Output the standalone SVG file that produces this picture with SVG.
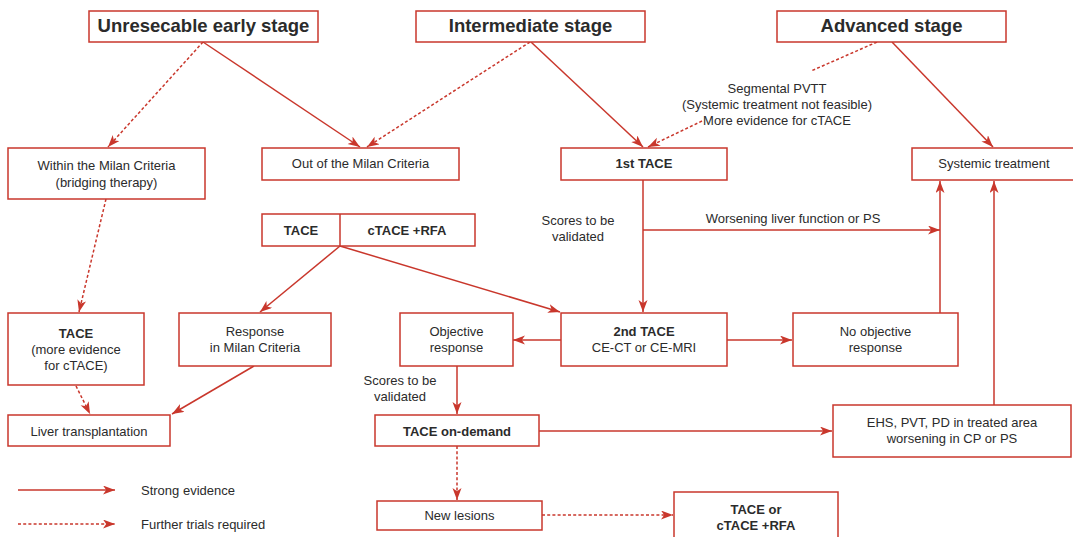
<svg xmlns="http://www.w3.org/2000/svg" width="1073" height="537" viewBox="0 0 1073 537">
  <style>
    .box { fill: #ffffff; stroke: #c9372c; stroke-width: 1.5; }
    .ln { fill: none; stroke: #c9372c; stroke-width: 1.5; }
    .dot { stroke-dasharray: 3 2.2; }
    text { font-family: "Liberation Sans", Arial, Helvetica, sans-serif; font-size: 13px; fill: #2b2b2b; text-anchor: middle; }
    .title { font-size: 18.5px; font-weight: bold; }
    .b { font-weight: bold; }
    .l { text-anchor: start; }
  </style>
  <defs>
    <marker id="arr" markerUnits="userSpaceOnUse" markerWidth="13" markerHeight="10" refX="12" refY="4.5" orient="auto">
      <path d="M0,0 L12,4.5 L0,9 L3.2,4.5 Z" fill="#c9372c"/>
    </marker>
  </defs>

  <rect width="1073" height="537" fill="#ffffff"/>

  <!-- connectors -->
  <g id="connectors">
    <line class="ln dot" x1="203" y1="42" x2="108" y2="147" marker-end="url(#arr)"/>
    <line class="ln" x1="203" y1="42" x2="360" y2="147" marker-end="url(#arr)"/>
    <line class="ln dot" x1="530" y1="42" x2="367" y2="147" marker-end="url(#arr)"/>
    <line class="ln" x1="531" y1="42" x2="643" y2="147" marker-end="url(#arr)"/>
    <line class="ln dot" x1="877" y1="42" x2="811" y2="71"/>
    <line class="ln dot" x1="702" y1="121" x2="648" y2="147" marker-end="url(#arr)"/>
    <line class="ln" x1="892" y1="42" x2="993" y2="147" marker-end="url(#arr)"/>
    <line class="ln" x1="643" y1="180" x2="643" y2="312" marker-end="url(#arr)"/>
    <line class="ln" x1="643" y1="230" x2="940" y2="230" marker-end="url(#arr)"/>
    <line class="ln" x1="940" y1="313" x2="940" y2="181" marker-end="url(#arr)"/>
    <line class="ln" x1="994" y1="405" x2="994" y2="181" marker-end="url(#arr)"/>
    <line class="ln" x1="340" y1="246" x2="260" y2="312" marker-end="url(#arr)"/>
    <line class="ln" x1="340" y1="246" x2="560" y2="312" marker-end="url(#arr)"/>
    <line class="ln" x1="254" y1="366" x2="172" y2="414" marker-end="url(#arr)"/>
    <line class="ln dot" x1="76" y1="386" x2="90" y2="414" marker-end="url(#arr)"/>
    <line class="ln dot" x1="106" y1="199" x2="79" y2="312" marker-end="url(#arr)"/>
    <line class="ln" x1="561" y1="340" x2="513" y2="340" marker-end="url(#arr)"/>
    <line class="ln" x1="727" y1="340" x2="792" y2="340" marker-end="url(#arr)"/>
    <line class="ln" x1="457" y1="366" x2="457" y2="414" marker-end="url(#arr)"/>
    <line class="ln" x1="539" y1="431" x2="832" y2="431" marker-end="url(#arr)"/>
    <line class="ln dot" x1="457" y1="446" x2="457" y2="500" marker-end="url(#arr)"/>
    <line class="ln dot" x1="542" y1="515" x2="673" y2="515" marker-end="url(#arr)"/>
  </g>

  <!-- connector labels -->
  <g id="labels">
    <text x="777" y="93">Segmental PVTT</text>
    <text x="777" y="109">(Systemic treatment not feasible)</text>
    <text x="777" y="125">More evidence for cTACE</text>
    <text x="578" y="225">Scores to be</text>
    <text x="578" y="241">validated</text>
    <text x="793" y="223">Worsening liver function or PS</text>
    <text x="400" y="385">Scores to be</text>
    <text x="400" y="401">validated</text>
  </g>

  <!-- stage headers -->
  <g id="early-stage">
    <rect class="box" x="89" y="11" width="229" height="31"/>
    <text class="title" x="203.5" y="32">Unresecable early stage</text>
  </g>
  <g id="intermediate-stage">
    <rect class="box" x="416" y="11" width="229" height="31"/>
    <text class="title" x="530.5" y="32">Intermediate stage</text>
  </g>
  <g id="advanced-stage">
    <rect class="box" x="777" y="11" width="229" height="31"/>
    <text class="title" x="891.5" y="32">Advanced stage</text>
  </g>

  <!-- second row -->
  <g id="within-milan">
    <rect class="box" x="8" y="148" width="197" height="51"/>
    <text x="106.5" y="170">Within the Milan Criteria</text>
    <text x="106.5" y="187">(bridging therapy)</text>
  </g>
  <g id="out-of-milan">
    <rect class="box" x="262" y="148" width="197" height="32"/>
    <text x="360.5" y="168">Out of the Milan Criteria</text>
  </g>
  <g id="first-tace">
    <rect class="box" x="561" y="148" width="166" height="32"/>
    <text class="b" x="644" y="168">1st TACE</text>
  </g>
  <g id="systemic-treatment">
    <rect class="box" x="912" y="148" width="170" height="32"/>
    <text x="994" y="168">Systemic treatment</text>
  </g>

  <g id="tace-ctace-rfa">
    <rect class="box" x="262" y="214" width="213" height="32"/>
    <line class="ln" x1="340" y1="214" x2="340" y2="246"/>
    <text class="b" x="301" y="235">TACE</text>
    <text class="b" x="407" y="235">cTACE +RFA</text>
  </g>

  <!-- third row -->
  <g id="tace-more-evidence">
    <rect class="box" x="8" y="313" width="136" height="72"/>
    <text class="b" x="76" y="338">TACE</text>
    <text x="76" y="354">(more evidence</text>
    <text x="76" y="370">for cTACE)</text>
  </g>
  <g id="response-milan">
    <rect class="box" x="179" y="313" width="152" height="53"/>
    <text x="255" y="336">Response</text>
    <text x="255" y="352">in Milan Criteria</text>
  </g>
  <g id="objective-response">
    <rect class="box" x="400" y="313" width="113" height="53"/>
    <text x="456.5" y="336">Objective</text>
    <text x="456.5" y="352">response</text>
  </g>
  <g id="second-tace">
    <rect class="box" x="561" y="313" width="166" height="53"/>
    <text class="b" x="644" y="336">2nd TACE</text>
    <text x="644" y="352">CE-CT or CE-MRI</text>
  </g>
  <g id="no-objective-response">
    <rect class="box" x="793" y="313" width="165" height="53"/>
    <text x="875.5" y="336">No objective</text>
    <text x="875.5" y="352">response</text>
  </g>

  <!-- fourth row -->
  <g id="liver-transplantation">
    <rect class="box" x="8" y="415" width="162" height="31"/>
    <text x="89" y="435.5">Liver transplantation</text>
  </g>
  <g id="tace-on-demand">
    <rect class="box" x="375" y="415" width="164" height="31"/>
    <text class="b" x="457" y="435.5">TACE on-demand</text>
  </g>
  <g id="ehs-pvt-pd">
    <rect class="box" x="833" y="405" width="238" height="52"/>
    <text x="952" y="427">EHS, PVT, PD in treated area</text>
    <text x="952" y="443">worsening in CP or PS</text>
  </g>

  <!-- fifth row -->
  <g id="new-lesions">
    <rect class="box" x="377" y="501" width="165" height="29"/>
    <text x="459.5" y="520">New lesions</text>
  </g>
  <g id="tace-or-ctace-rfa">
    <rect class="box" x="674" y="492" width="164" height="60"/>
    <text class="b" x="756" y="514">TACE or</text>
    <text class="b" x="756" y="530">cTACE +RFA</text>
  </g>

  <!-- legend -->
  <g id="legend">
    <line class="ln" x1="18" y1="490" x2="115" y2="490" marker-end="url(#arr)"/>
    <text class="l" x="141" y="495">Strong evidence</text>
    <line class="ln dot" x1="18" y1="524" x2="115" y2="524" marker-end="url(#arr)"/>
    <text class="l" x="141" y="529">Further trials required</text>
  </g>
</svg>
